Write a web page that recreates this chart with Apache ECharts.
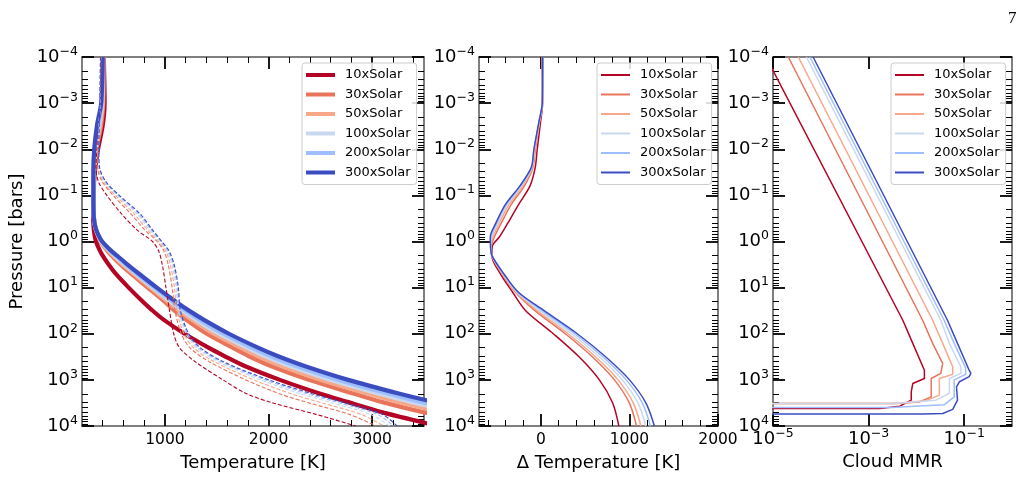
<!DOCTYPE html>
<html>
<head>
<meta charset="utf-8">
<script src="https://cdn.jsdelivr.net/npm/echarts@6.0.0/dist/echarts.min.js"></script>
<style>
  html, body { margin: 0; padding: 0; background: #fff; }
  #chart { width: 1027px; height: 502px; }
</style>
</head>
<body>
<div id="chart"></div>
<script>
const FONT = 'DejaVu Sans';

const solarLabels = ['10xSolar', '30xSolar', '50xSolar', '100xSolar', '200xSolar', '300xSolar'];
const lineColors = ['#b40426', '#e7745b', '#f7a889', '#c9d8ef', '#9ebeff', '#3b4cc0'];

// panel 1 : thick T-P profiles
const presThick = [1e-4, 1e-3, 3e-3, 1e-2, 3e-2, 0.1, 0.3, 0.5, 0.7, 1, 1.5, 2, 3, 5, 10, 20, 30, 50, 100, 200, 300, 500, 1000, 2000, 3000, 5000, 1e4];
const tempThick10x  = [410, 418, 400, 355, 325, 310, 308, 312, 320, 335, 368, 398, 450, 525, 650, 785, 870, 990, 1190, 1420, 1570, 1770, 2110, 2500, 2760, 3090, 3640];
const tempThick30x  = [408, 405, 385, 340, 318, 312, 315, 328, 350, 378, 435, 483, 560, 673, 834, 994, 1081, 1206, 1403, 1653, 1801, 2022, 2388, 2827, 3091, 3493, 4195];
const tempThick50x  = [405, 400, 375, 335, 316, 310, 315, 329, 352, 383, 446, 500, 582, 698, 862, 1029, 1125, 1261, 1472, 1731, 1891, 2126, 2510, 2967, 3251, 3677, 4395];
const tempThick100x = [402, 395, 365, 328, 314, 310, 315, 330, 353, 387, 454, 512, 598, 716, 883, 1055, 1157, 1302, 1523, 1790, 1958, 2204, 2601, 3072, 3371, 3815, 4545];
const tempThick200x = [400, 390, 355, 322, 312, 310, 314, 330, 354, 391, 462, 523, 612, 732, 901, 1077, 1184, 1336, 1566, 1839, 2014, 2269, 2677, 3160, 3471, 3930, 4670];
const tempThick300x = [400, 385, 345, 318, 310, 310, 314, 330, 355, 395, 470, 535, 628, 750, 922, 1103, 1217, 1377, 1618, 1898, 2081, 2347, 2768, 3265, 3591, 4068, 4820];

// panel 1 : dashed curves
const presCond = [1e-4, 1e-3, 1e-2, 0.025, 0.05, 0.1, 0.25, 0.56, 1, 1.6, 3.2, 10, 32, 100, 200, 400, 1000, 2000, 3200, 5600, 1e4];
const tempCond10x  = [385, 378, 345, 335, 358, 440, 580, 730, 880, 940, 975, 1010, 1045, 1085, 1140, 1290, 1560, 1790, 2050, 2460, 2840];
const tempCond30x  = [382, 375, 354, 352, 394, 500, 670, 805, 925, 990, 1032, 1070, 1098, 1158, 1240, 1425, 1780, 2105, 2400, 2780, 3040];
const tempCond50x  = [380, 374, 357, 359, 407, 522, 702, 832, 941, 1008, 1053, 1092, 1116, 1184, 1276, 1474, 1859, 2218, 2526, 2895, 3112];
const tempCond100x = [379, 373, 359, 364, 417, 538, 728, 853, 954, 1022, 1069, 1108, 1131, 1204, 1304, 1511, 1921, 2307, 2624, 2985, 3168];
const tempCond200x = [379, 372, 361, 367, 424, 550, 746, 868, 963, 1032, 1081, 1120, 1142, 1218, 1324, 1538, 1965, 2370, 2694, 3049, 3208];
const tempCond300x = [378, 372, 362, 370, 430, 560, 760, 880, 970, 1040, 1090, 1130, 1150, 1230, 1340, 1560, 2000, 2420, 2750, 3100, 3240];

// panel 2 : delta temperature
const presDelta = [1e-4, 1e-3, 2.5e-3, 1e-2, 0.025, 0.063, 0.16, 0.4, 0.8, 1.26, 2, 5, 12.6, 32, 100, 316, 1000, 3160, 1e4];
const dT10x  = [10, 18, -4, -42, -65, -125, -255, -375, -470, -550, -555, -460, -320, -170, 140, 430, 660, 810, 880];
const dT30x  = [16, 16, -14, -63, -90, -188, -338, -449, -527, -561, -555, -440, -288, -65, 275, 580, 830, 998, 1080];
const dT50x  = [17, 16, -17, -69, -97, -208, -363, -472, -544, -564, -555, -435, -280, -40, 307, 616, 871, 1043, 1129];
const dT100x = [18, 15, -19, -74, -103, -222, -381, -488, -557, -567, -555, -430, -271, -10, 345, 658, 918, 1095, 1185];
const dT200x = [19, 15, -21, -77, -107, -232, -394, -501, -566, -569, -555, -424, -262, 17, 380, 697, 963, 1144, 1237];
const dT300x = [20, 15, -22, -80, -110, -240, -405, -510, -573, -570, -555, -420, -255, 40, 410, 730, 1000, 1185, 1281];

// panel 3 : cloud mass mixing ratio
const mmrP10x  = [1e-4, 51, 162, 617, 933, 1200, 1820, 2750, 3720, 4170, 4170];
const mmr10x   = [7.1e-6, 5.2e-3, 8.4e-3, 1.47e-2, 1.47e-2, 8.4e-3, 7.8e-3, 7.8e-3, 4.5e-3, 1.7e-3, 1e-8];
const mmrP30x  = [1e-4, 51, 162, 437, 724, 933, 2340, 3020, 3240, 3240];
const mmr30x   = [2.09e-5, 1.35e-2, 2.19e-2, 3.55e-2, 3.24e-2, 2.04e-2, 2.04e-2, 1.15e-2, 3.8e-3, 1e-8];
const mmrP50x  = [1e-4, 51, 190, 525, 759, 933, 2140, 2820, 3240, 3240];
const mmr50x   = [3.39e-5, 2.19e-2, 3.8e-2, 5.75e-2, 5.75e-2, 3.02e-2, 3.02e-2, 1.58e-2, 3.5e-3, 1e-8];
const mmrP100x = [1e-4, 51, 162, 525, 724, 933, 1950, 2750, 3240, 3240];
const mmr100x  = [5.0e-5, 3.24e-2, 4.9e-2, 8.51e-2, 8.51e-2, 4.9e-2, 4.9e-2, 2.57e-2, 3.5e-3, 1e-8];
const mmrP200x = [1e-4, 51, 162, 550, 759, 1000, 2340, 3470, 3980, 3980];
const mmr200x  = [5.9e-5, 3.8e-2, 6.17e-2, 0.107, 0.107, 6.17e-2, 6.17e-2, 3.8e-2, 3.0e-3, 1e-8];
const mmrP300x = [1e-4, 51, 162, 617, 724, 851, 1100, 1410, 2750, 4370, 5370, 5500, 5500];
const mmr300x  = [6.9e-5, 4.47e-2, 7.24e-2, 0.127, 0.138, 0.127, 7.94e-2, 6.9e-2, 7.24e-2, 5.75e-2, 3.55e-2, 1.35e-2, 1e-8];

// tick positions
const tempMajor = [1000, 2000, 3000];
const tempMinor = [400, 600, 800, 1200, 1400, 1600, 1800, 2200, 2400, 2600, 2800, 3200, 3400];
const deltaMajor = [0, 1000, 2000];
const deltaMinor = [-600, -400, -200, 200, 400, 600, 800, 1200, 1400, 1600, 1800];
const mmrMajor = [1e-5, 1e-3, 1e-1];
const pressureDecades = [1e-4, 1e-3, 1e-2, 1e-1, 1, 10, 100, 1000];
const pressureMinor = [];
pressureDecades.forEach(d => {
  for (let k = 2; k <= 9; k++) pressureMinor.push(+(d * k).toPrecision(3));
});

const tempThick = [tempThick10x, tempThick30x, tempThick50x, tempThick100x, tempThick200x, tempThick300x];
const tempCond = [tempCond10x, tempCond30x, tempCond50x, tempCond100x, tempCond200x, tempCond300x];
const dTs = [dT10x, dT30x, dT50x, dT100x, dT200x, dT300x];
const mmrPs = [mmrP10x, mmrP30x, mmrP50x, mmrP100x, mmrP200x, mmrP300x];
const mmrs = [mmr10x, mmr30x, mmr50x, mmr100x, mmr200x, mmr300x];

const spine = {color: '#555', width: 1.5};
const majorTick = {color: '#000', width: 1.8};
const minorTick = {color: '#000', width: 1};

const logRich = {
  b: {fontFamily: FONT, fontSize: 18, color: '#000', lineHeight: 24},
  s: {fontFamily: FONT, fontSize: 12.5, color: '#000', lineHeight: 10, verticalAlign: 'top'}
};

function powerLabel(v) {
  const e = Math.round(Math.log10(v));
  return '{b|10}{s|' + (e < 0 ? '\u2212' + (-e) : e) + '}';
}

function zip(xs, ys) {
  return xs.map((x, i) => [x, ys[i]]);
}

function valueXAxes(g, min, max, major, minor, name) {
  const common = {gridIndex: g, type: 'value', min: min, max: max, splitLine: {show: false}};
  return [
    Object.assign({}, common, {
      position: 'bottom', name: name, nameLocation: 'middle', nameGap: 27,
      nameTextStyle: {fontFamily: FONT, fontSize: 18, color: '#000'},
      axisLine: {show: true, onZero: false, lineStyle: spine},
      axisTick: {show: true, inside: true, length: 12, customValues: major, lineStyle: majorTick},
      axisLabel: {customValues: major, margin: 5, fontFamily: FONT, fontSize: 15.5, color: '#000', lineHeight: 18,
                  formatter: v => String(v)}
    }),
    Object.assign({}, common, {
      position: 'bottom',
      axisLine: {show: false, onZero: false},
      axisTick: {show: true, inside: true, length: 6, customValues: minor, lineStyle: minorTick},
      axisLabel: {show: false}
    }),
    Object.assign({}, common, {
      position: 'top',
      axisLine: {show: true, onZero: false, lineStyle: spine},
      axisTick: {show: true, inside: true, length: 12, customValues: major, lineStyle: majorTick},
      axisLabel: {show: false}
    }),
    Object.assign({}, common, {
      position: 'top',
      axisLine: {show: false, onZero: false},
      axisTick: {show: true, inside: true, length: 6, customValues: minor, lineStyle: minorTick},
      axisLabel: {show: false}
    })
  ];
}

function mmrXAxes(g) {
  const common = {gridIndex: g, type: 'log', logBase: 10, min: 1e-5, max: 1, splitLine: {show: false}};
  return [
    Object.assign({}, common, {
      position: 'bottom', name: 'Cloud MMR', nameLocation: 'middle', nameGap: 27,
      nameTextStyle: {fontFamily: FONT, fontSize: 18, color: '#000'},
      axisLine: {show: true, onZero: false, lineStyle: spine},
      axisTick: {show: true, inside: true, length: 12, customValues: mmrMajor, lineStyle: majorTick},
      axisLabel: {margin: 1, formatter: v => (Math.round(Math.log10(v)) % 2 !== 0 ? powerLabel(v) : ''), rich: logRich}
    }),
    Object.assign({}, common, {position: 'bottom', axisLine: {show: false, onZero: false}, axisTick: {show: false}, axisLabel: {show: false}}),
    Object.assign({}, common, {
      position: 'top',
      axisLine: {show: true, onZero: false, lineStyle: spine},
      axisTick: {show: true, inside: true, length: 12, customValues: mmrMajor, lineStyle: majorTick},
      axisLabel: {show: false}
    }),
    Object.assign({}, common, {position: 'top', axisLine: {show: false, onZero: false}, axisTick: {show: false}, axisLabel: {show: false}})
  ];
}

function pressureYAxes(g) {
  const common = {gridIndex: g, type: 'log', logBase: 10, min: 1e-4, max: 1e4, inverse: true, splitLine: {show: false}};
  const major = Object.assign({}, common, {
    axisLine: {show: true, onZero: false, lineStyle: spine},
    axisTick: {show: true, inside: true, length: 12, lineStyle: majorTick}
  });
  const minor = Object.assign({}, common, {
    axisLine: {show: false, onZero: false},
    axisTick: {show: true, inside: true, length: 6, customValues: pressureMinor, lineStyle: minorTick},
    axisLabel: {show: false}
  });
  return [
    Object.assign({}, major, {
      position: 'left', name: g === 0 ? 'Pressure [bars]' : '', nameLocation: 'middle', nameGap: 56,
      nameTextStyle: {fontFamily: FONT, fontSize: 18, color: '#000'},
      axisLabel: {margin: 4, formatter: powerLabel, rich: logRich}
    }),
    Object.assign({}, minor, {position: 'left'}),
    Object.assign({}, major, {position: 'right', axisLabel: {show: false}}),
    Object.assign({}, minor, {position: 'right'})
  ];
}

function legendFor(left, suffix, iconH) {
  return {
    left: left, top: 63, orient: 'vertical', icon: 'rect',
    itemWidth: 29, itemHeight: iconH, itemGap: 5.5,
    padding: [5, 6, 5, 4],
    backgroundColor: 'rgba(255,255,255,0.85)', borderColor: '#cccccc', borderWidth: 1, borderRadius: 3,
    selectedMode: false,
    itemStyle: {borderWidth: 0},
    data: solarLabels.map(l => l + suffix),
    formatter: n => n.split('#')[0],
    textStyle: {fontFamily: FONT, fontSize: 13, color: '#000', lineHeight: 14, padding: [0, 0, 0, 5]}
  };
}

const series = [];
solarLabels.forEach((label, i) => {
  series.push({
    type: 'line', name: label + '#T', xAxisIndex: 0, yAxisIndex: 0,
    data: zip(tempThick[i], presThick), symbol: 'none', smooth: 0.3,
    lineStyle: {width: 4.2, color: lineColors[i]}, itemStyle: {color: lineColors[i]}
  });
});
solarLabels.forEach((label, i) => {
  series.push({
    type: 'line', name: label + '#cond', xAxisIndex: 0, yAxisIndex: 0,
    data: zip(tempCond[i], presCond), symbol: 'none', smooth: 0.3,
    lineStyle: {width: 1.1, type: [4, 2], color: lineColors[i]}, itemStyle: {color: lineColors[i]}
  });
});
solarLabels.forEach((label, i) => {
  series.push({
    type: 'line', name: label + '#dT', xAxisIndex: 4, yAxisIndex: 4,
    data: zip(dTs[i], presDelta), symbol: 'none', smooth: 0.3,
    lineStyle: {width: 1.5, color: lineColors[i]}, itemStyle: {color: lineColors[i]}
  });
});
solarLabels.forEach((label, i) => {
  series.push({
    type: 'line', name: label + '#mmr', xAxisIndex: 8, yAxisIndex: 8,
    data: zip(mmrs[i], mmrPs[i]), symbol: 'none',
    lineStyle: {width: 1.5, color: lineColors[i]}, itemStyle: {color: lineColors[i]}
  });
});

const chart = echarts.init(document.getElementById('chart'), null, {renderer: 'canvas'});
chart.setOption({
  animation: false,
  backgroundColor: '#fff',
  grid: [
    {left: 82, top: 57, width: 342, height: 369},
    {left: 479, top: 57, width: 239, height: 369},
    {left: 773, top: 57, width: 239, height: 369}
  ],
  xAxis: [].concat(
    valueXAxes(0, 200, 3500, tempMajor, tempMinor, 'Temperature [K]'),
    valueXAxes(1, -700, 2000, deltaMajor, deltaMinor, '\u0394 Temperature [K]'),
    mmrXAxes(2)
  ),
  yAxis: [].concat(pressureYAxes(0), pressureYAxes(1), pressureYAxes(2)),
  legend: [legendFor(302, '#T', 4), legendFor(597, '#dT', 2), legendFor(891, '#mmr', 2)],
  graphic: [{
    type: 'text', left: 1008, top: 10,
    style: {text: '7', font: '17px "Liberation Serif"', fill: '#000'}
  }],
  series: series
});
</script>
</body>
</html>
